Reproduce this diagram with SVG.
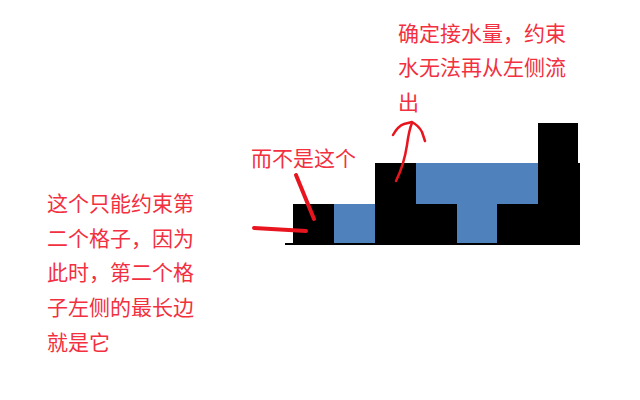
<svg xmlns="http://www.w3.org/2000/svg" width="640" height="400" viewBox="0 0 640 400">
<style>
.t{font-family:"Noto Sans CJK SC","Noto Sans",sans-serif;font-size:21px;fill:#f2303f}
.bar{fill:#000}
.water{fill:#4f81bd}
.pen{fill:none;stroke:#e8141e;stroke-linecap:round;stroke-linejoin:round}
</style>
<rect width="640" height="400" fill="#fff"/>
<g id="chart">
<rect class="water" x="334" y="204" width="41" height="40"/>
<rect class="water" x="416" y="163" width="122" height="41"/>
<rect class="water" x="457" y="204" width="40" height="40"/>
<rect class="bar" x="293" y="204" width="41" height="40"/>
<rect class="bar" x="375" y="163" width="41" height="81"/>
<rect class="bar" x="416" y="204" width="41" height="40"/>
<rect class="bar" x="497" y="204" width="41" height="40"/>
<rect class="bar" x="538" y="123" width="40" height="121"/>
<rect class="bar" x="578" y="163" width="2" height="81"/>
<line x1="285" y1="244" x2="580" y2="244" stroke="#000" stroke-width="2"/>
</g>
<g id="label-top">
<text class="t" x="398" y="41">确定接水量，约束</text>
<text class="t" x="398" y="75">水无法再从左侧流</text>
<text class="t" x="398" y="110">出</text>
</g>
<g id="label-mid">
<text class="t" x="251" y="166">而不是这个</text>
</g>
<g id="label-left">
<text class="t" x="47" y="211">这个只能约束第</text>
<text class="t" x="47" y="246">二个格子，因为</text>
<text class="t" x="47" y="280">此时，第二个格</text>
<text class="t" x="47" y="315">子左侧的最长边</text>
<text class="t" x="47" y="350">就是它</text>
</g>
<g id="connectors">
<path class="pen" stroke-width="4" d="M296,175 L314,219"/>
<path class="pen" stroke-width="4" d="M254,228 L306,231"/>
<path class="pen" stroke-width="2.5" d="M396,181 Q404,165 407,145 Q409,130 412,123"/>
<path class="pen" stroke-width="2.5" d="M393,135 Q398,126 404,124 L412,122 Q419,126 422,132 L425,141"/>
</g>
</svg>
